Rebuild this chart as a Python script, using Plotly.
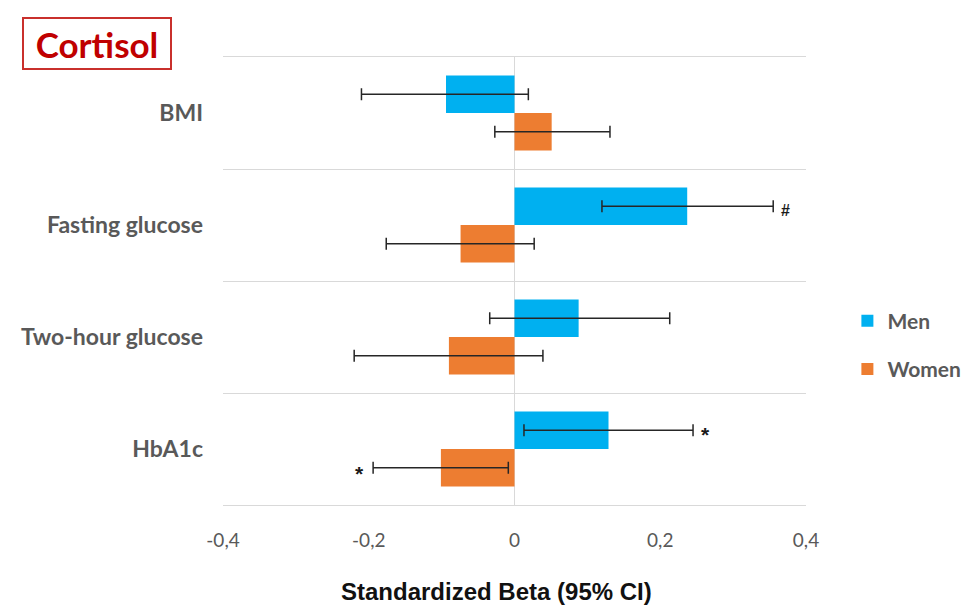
import plotly.graph_objects as go

categories = ["BMI", "Fasting glucose", "Two-hour glucose", "HbA1c"]
men_beta = [-0.094, 0.237, 0.088, 0.129]
men_lo = [-0.210, 0.120, -0.034, 0.013]
men_hi = [0.019, 0.355, 0.213, 0.245]
women_beta = [0.051, -0.074, -0.090, -0.101]
women_lo = [-0.027, -0.176, -0.220, -0.194]
women_hi = [0.131, 0.027, 0.039, -0.0085]
men_sig = ["", "#", "", "*"]
women_sig = ["", "", "", "*"]
x_tickvals = [-0.4, -0.2, 0, 0.2, 0.4]
x_ticktext = ["-0,4", "-0,2", "0", "0,2", "0,4"]

MEN_C = "#00B0F0"
WOMEN_C = "#ED7D31"
ERR_C = "#262626"
GRAY = "#595959"
GRID = "#d9d9d9"

fig = go.Figure()

def add_series(name, beta, lo, hi, color, group):
    fig.add_trace(go.Bar(
        name=name, y=categories, x=beta, orientation="h",
        marker=dict(color=color, line=dict(width=0)),
        legendgroup=group,
        error_x=dict(type="data", symmetric=False,
                     array=[h - b for h, b in zip(hi, beta)],
                     arrayminus=[b - l for b, l in zip(beta, lo)],
                     color=ERR_C, thickness=1.5, width=6),
    ))

add_series("Men", men_beta, men_lo, men_hi, MEN_C, "m")
add_series("Women", women_beta, women_lo, women_hi, WOMEN_C, "w")

annotations = []
for sigs, beta, lo, hi, ysh in ((men_sig, men_beta, men_lo, men_hi, 18),
                                (women_sig, women_beta, women_lo, women_hi, -21)):
    for cat, s, b, l, h in zip(categories, sigs, beta, lo, hi):
        if not s:
            continue
        right = b >= 0
        annotations.append(dict(
            x=h if right else l, y=cat, xref="x", yref="y",
            text=f"<b>{s}</b>", showarrow=False,
            xanchor="left" if right else "right",
            xshift=6 if right else -7, yshift=ysh - 3,
            font=dict(family="Liberation Sans", size=21 if s == "*" else 16,
                      color="#1a1a1a"),
        ))

annotations.append(dict(
    x=-0.2161, y=1.0301, xref="paper", yref="paper", text="<b>Cortisol</b>",
    showarrow=False, xanchor="center", yanchor="middle",
    width=146, height=49, borderpad=0,
    font=dict(family="Lato", size=35, color="#C00000"),
    bordercolor="#C9302C", borderwidth=2,
))
annotations.append(dict(
    x=0.469, y=-0.194, xref="paper", yref="paper",
    text="<b>Standardized Beta (95% CI)</b>", showarrow=False,
    xanchor="center", yanchor="middle",
    font=dict(family="Liberation Sans", size=24, color="#111111"),
))

fig.update_layout(
    width=969, height=606,
    paper_bgcolor="white", plot_bgcolor="white",
    margin=dict(l=223, r=163, t=57, b=101, autoexpand=False),
    barmode="group", bargap=0.33, bargroupgap=0,
    showlegend=True,
    legend=dict(x=1.071, y=0.357, xanchor="left", yanchor="middle",
                font=dict(family="Lato", size=21, color=GRAY, weight=700),
                tracegroupgap=18, itemwidth=30),
    xaxis=dict(range=[-0.4, 0.4], tickvals=x_tickvals, ticktext=x_ticktext,
               showgrid=False, zeroline=True, zerolinecolor=GRID,
               zerolinewidth=1, showline=True, linecolor=GRID, linewidth=1,
               mirror=True, ticks="",
               tickfont=dict(family="Lato", size=19, color=GRAY),
               ticklabelstandoff=18),
    yaxis=dict(type="category", autorange="reversed", tickson="boundaries",
               showgrid=True, gridcolor=GRID, gridwidth=1, ticks="",
               showline=False, zeroline=False,
               tickfont=dict(family="Lato", size=23, color=GRAY, weight=700),
               ticklabelstandoff=19),
    annotations=annotations,
)

fig.write_html("out.html", config={"displayModeBar": False},
               post_script="document.body.style.margin='0';")
